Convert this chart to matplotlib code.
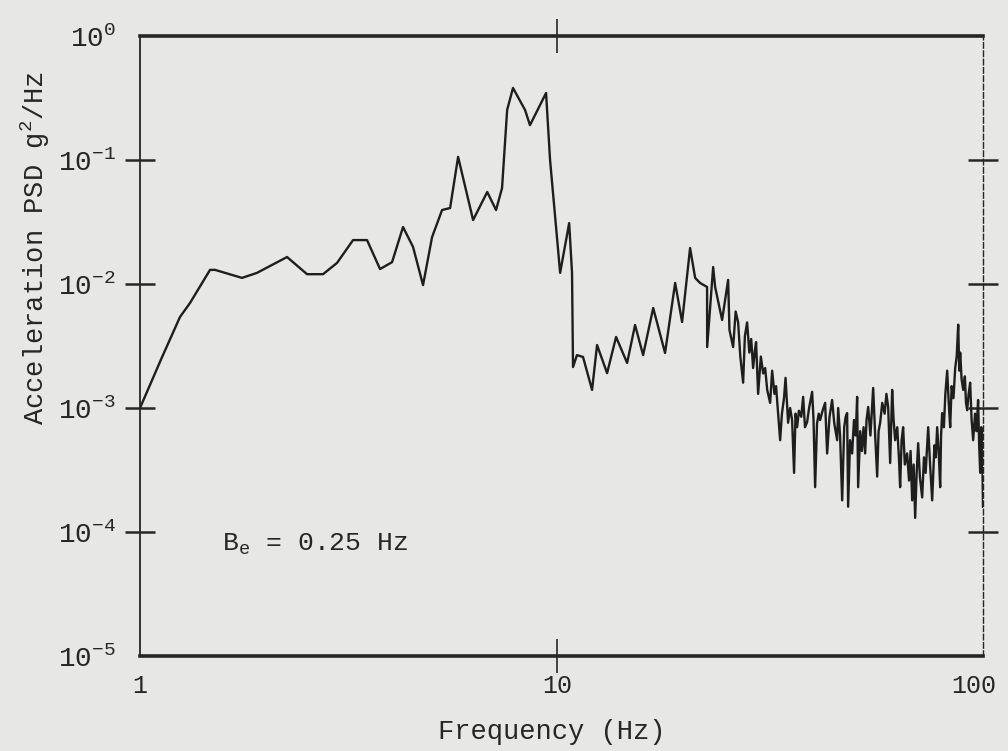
#!/usr/bin/env python3
"""Acceleration PSD vs frequency, scanned-report style."""

import matplotlib

matplotlib.use("Agg")
import matplotlib.pyplot as plt

# values
freq_hz = [
    1.0, 1.127, 1.247, 1.318, 1.472, 1.513, 1.756, 1.908, 2.252, 2.515,
    2.747, 2.968, 3.242, 3.502, 3.763, 4.021, 4.272, 4.515, 4.771, 5.015,
    5.30, 5.54, 5.79, 6.29, 6.80, 7.14, 7.38, 7.59, 7.84, 8.38,
    8.61, 9.41, 9.62, 10.17, 10.69, 10.86, 10.92,
    11.16, 11.54, 12.13, 12.47, 13.18, 13.85, 14.72, 15.38, 16.08, 17.0,
    18.15, 19.19, 19.94, 20.84, 21.43, 22.02, 22.89, 22.9, 23.67, 23.93,
    24.87, 25.71, 25.9,
    26.43, 26.8, 27.17, 27.5, 27.93, 28.2, 28.55, 28.9, 29.2, 29.51,
    29.8, 30.0, 30.34, 30.8, 31.2, 31.54, 31.9, 32.42, 32.78, 33.2,
    33.5, 33.88, 34.26, 34.6, 35.0, 35.3, 35.8, 36.2, 36.6, 37.0,
    37.3, 37.63, 38.0, 38.5, 38.9, 39.3, 39.77, 40.2, 40.88, 41.2,
    41.56, 42.0, 42.4, 42.73, 43.3, 43.92, 44.41, 45.0, 45.65, 46.2,
    46.94, 47.2, 47.7, 48.25, 48.8, 49.2, 49.59, 49.87, 50.4, 50.98,
    51.5, 52.0, 52.41, 52.7, 53.3, 53.8, 54.3, 54.78, 55.2, 55.7,
    56.4, 57.26, 57.9, 58.54, 59.0, 59.51, 60.2, 61.0, 61.6, 62.2,
    62.89, 63.59, 64.1, 64.65, 65.4, 66.0, 66.45, 67.0, 67.56, 68.2,
    69.07, 69.8, 70.4, 71.01, 71.6, 72.2, 72.8, 73.41, 74.1, 75.05,
    75.8, 76.5, 77.58, 78.4, 79.31, 80.3, 80.9, 81.53, 82.2, 82.89,
    83.3, 83.81, 84.6, 85.3, 86.16, 86.9, 87.6, 88.3, 89.2, 90.06,
    90.8, 91.57, 92.1, 92.58, 93.3, 94.13, 95.0, 95.6, 96.21, 97.0,
    97.81, 98.6, 99.45, 100.5, 101.3, 102.2, 102.8, 103.4, 104.0, 104.5,
    105.0,
]
psd = [
    1.0e-3, 2.53e-3, 5.42e-3, 7.03e-3, 1.30e-2, 1.30e-2, 1.12e-2, 1.23e-2, 1.65e-2, 1.20e-2,
    1.20e-2, 1.48e-2, 2.26e-2, 2.26e-2, 1.32e-2, 1.50e-2, 2.88e-2, 1.99e-2, 9.8e-3, 2.39e-2,
    3.95e-2, 4.10e-2, 0.106, 3.28e-2, 5.52e-2, 3.95e-2, 5.94e-2, 0.253, 0.381, 0.253,
    0.191, 0.347, 0.100, 1.23e-2, 3.10e-2, 1.23e-2, 2.14e-3,
    2.67e-3, 2.58e-3, 1.40e-3, 3.22e-3, 1.91e-3, 3.74e-3, 2.31e-3, 4.67e-3, 2.67e-3, 6.40e-3,
    2.78e-3, 1.02e-2, 4.94e-3, 1.95e-2, 1.12e-2, 1.02e-2, 9.46e-3, 3.10e-3, 1.37e-2, 9.46e-3,
    5.13e-3, 1.08e-2, 4.26e-3,
    3.1e-3, 6.0e-3, 4.9e-3, 2.6e-3, 1.6e-3, 3.8e-3, 4.9e-3, 2.8e-3, 3.6e-3, 2.1e-3,
    2.9e-3, 3.4e-3, 1.3e-3, 2.6e-3, 1.9e-3, 2.1e-3, 1.4e-3, 1.1e-3, 2.0e-3, 1.3e-3,
    1.5e-3, 9.1e-4, 5.5e-4, 9.0e-4, 1.2e-3, 1.75e-3, 7.6e-4, 1.0e-3, 8.0e-4, 3.0e-4,
    9.0e-4, 7.0e-4, 9.5e-4, 8.5e-4, 1.23e-3, 7.0e-4, 7.7e-4, 1.0e-3, 1.35e-3, 8.0e-4,
    2.3e-4, 7.5e-4, 9.0e-4, 8.0e-4, 9.5e-4, 1.1e-3, 4.3e-4, 8.5e-4, 1.16e-3, 7.5e-4,
    5.5e-4, 1.0e-3, 6.0e-4, 1.8e-4, 7.0e-4, 8.5e-4, 9.1e-4, 1.6e-4, 5.5e-4, 4.3e-4,
    8.0e-4, 6.0e-4, 1.23e-3, 2.3e-4, 6.5e-4, 4.5e-4, 7.0e-4, 4.3e-4, 8.0e-4, 1.02e-3,
    6.0e-4, 1.45e-3, 6.0e-4, 2.8e-4, 6.5e-4, 7.6e-4, 1.1e-3, 9.0e-4, 1.3e-3, 1.02e-3,
    3.6e-4, 1.4e-3, 8.0e-4, 5.5e-4, 7.0e-4, 4.0e-4, 2.3e-4, 5.5e-4, 7.0e-4, 3.5e-4,
    4.3e-4, 2.6e-4, 4.5e-4, 1.8e-4, 3.5e-4, 1.3e-4, 3.0e-4, 5.2e-4, 2.8e-4, 1.9e-4,
    4.0e-4, 3.0e-4, 7.0e-4, 3.5e-4, 1.8e-4, 5.0e-4, 4.0e-4, 7.0e-4, 4.5e-4, 2.3e-4,
    6.0e-4, 9.1e-4, 7.0e-4, 1.3e-3, 2.0e-3, 1.1e-3, 7.0e-4, 1.5e-3, 1.2e-3, 2.1e-3,
    2.6e-3, 4.7e-3, 2.0e-3, 2.8e-3, 1.7e-3, 1.4e-3, 1.8e-3, 1.1e-3, 9.6e-4, 1.3e-3,
    1.6e-3, 8.0e-4, 5.5e-4, 9.0e-4, 6.5e-4, 1.16e-3, 5.0e-4, 3.0e-4, 7.0e-4, 5.2e-4,
    1.6e-4,
]

psd_ticks = [1e-5, 1e-4, 1e-3, 1e-2, 1e-1, 1e0]
psd_tick_labels = [r"$10^{-5}$", r"$10^{-4}$", r"$10^{-3}$",
                   r"$10^{-2}$", r"$10^{-1}$", r"$10^{0}$"]
freq_ticks = [1, 10, 100]
freq_tick_labels = ["1", "10", "100"]

BG = "#e7e7e5"
INK = "#262626"

plt.rcParams["font.family"] = ["Liberation Mono", "DejaVu Sans"]
plt.rcParams["mathtext.fontset"] = "custom"
plt.rcParams["mathtext.rm"] = "Liberation Mono"
plt.rcParams["mathtext.it"] = "Liberation Mono"
plt.rcParams["mathtext.default"] = "regular"

fig = plt.figure(figsize=(10.08, 7.51), dpi=100, facecolor=BG)
ax = fig.add_axes([140 / 1008, 1 - 656 / 751, 843 / 1008, 620 / 751])
ax.set_facecolor(BG)

ax.plot(freq_hz, psd, color="#1e1e1e", lw=1.7)

ax.set_xscale("log")
ax.set_yscale("log")
ax.set_xlim(1, 105)
ax.set_ylim(1e-5, 1)

ax.set_xticks(freq_ticks)
ax.set_xticklabels(freq_tick_labels)
ax.set_yticks(psd_ticks)
ax.set_yticklabels(psd_tick_labels)
ax.minorticks_off()

ax.tick_params(axis="both", direction="inout", length=21, width=1.8,
               colors=INK, labelsize=18)
ax.tick_params(axis="y", right=True, labelright=False, pad=7, labelsize=20)
ax.tick_params(axis="x", top=True, labeltop=False, pad=1, width=1.2, length=24)

# end ticks sit on the frame; hide their marks
for t in (ax.yaxis.get_major_ticks()[0], ax.yaxis.get_major_ticks()[-1]):
    t.tick1line.set_visible(False)
    t.tick2line.set_visible(False)
for t in (ax.xaxis.get_major_ticks()[0], ax.xaxis.get_major_ticks()[-1]):
    t.tick1line.set_visible(False)
    t.tick2line.set_visible(False)

ax.spines["top"].set_linewidth(2.6)
ax.spines["bottom"].set_linewidth(2.6)
ax.spines["left"].set_linewidth(1.3)
ax.spines["right"].set_linewidth(1.0)
ax.spines["right"].set_linestyle((0, (4, 2)))
for s in ax.spines.values():
    s.set_color(INK)

fig.text(552 / 1008, 1 - 732 / 751, "Frequency (Hz)", ha="center", va="center",
         fontsize=19.5, color=INK)
fig.text(35 / 1008, 1 - 248 / 751, r"Acceleration PSD g$^{2}$/Hz", rotation=90,
         ha="center", va="center", fontsize=19.5, color=INK)
fig.text(222 / 1008, 1 - 551 / 751, r"$B_{e}$ = 0.25 Hz", ha="left",
         va="baseline", fontsize=19, color=INK)

fig.savefig("out.png", dpi=100, facecolor=BG)
